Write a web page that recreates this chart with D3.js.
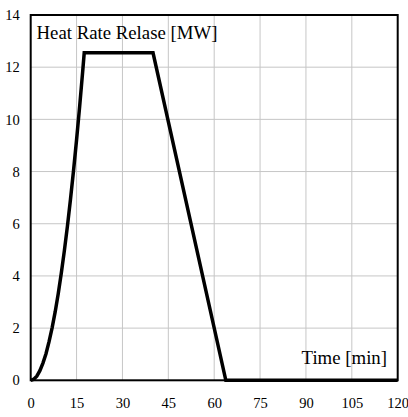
<!DOCTYPE html>
<html>
<head>
<meta charset="utf-8">
<script src="https://cdn.jsdelivr.net/npm/d3@7"></script>
<style>
  html, body { margin: 0; padding: 0; background: #fff; }
  svg { display: block; }
  text { font-family: "Liberation Serif", "Times New Roman", serif; fill: #000; }
</style>
</head>
<body>
<script>
// Time [min] and heat release rate [MW]
const timeMin = [0, 1, 2, 3, 4, 5, 6, 7, 8, 9, 10, 11, 12, 13, 14, 15, 16, 17, 17.5, 40, 63.8, 120];
const hrrMW   = [0, 0.04, 0.16, 0.37, 0.66, 1.02, 1.48, 2.01, 2.62, 3.32, 4.10, 4.96, 5.90, 6.93, 8.03, 9.22, 10.49, 11.84, 12.55, 12.55, 0, 0];

const xTicks = [0, 15, 30, 45, 60, 75, 90, 105, 120];
const yTicks = [0, 2, 4, 6, 8, 10, 12, 14];
const yLabel = "Heat Rate Relase [MW]";
const xLabel = "Time [min]";

const W = 408, H = 417;
const pL = 30.7, pR = 397.7, pT = 15, pB = 380.3;

const svg = d3.select("body").append("svg").attr("width", W).attr("height", H);

const x = d3.scaleLinear().domain([0, 120]).range([pL, pR]);
const y = d3.scaleLinear().domain([0, 14]).range([pB, pT]);

// grid
svg.append("g").selectAll("line").data(xTicks.slice(1, -1)).join("line")
  .attr("x1", d => x(d)).attr("x2", d => x(d)).attr("y1", pT).attr("y2", pB)
  .attr("stroke", "#c6c6c6").attr("stroke-width", 1);
svg.append("g").selectAll("line").data(yTicks.slice(1, -1)).join("line")
  .attr("y1", d => y(d)).attr("y2", d => y(d)).attr("x1", pL).attr("x2", pR)
  .attr("stroke", "#c6c6c6").attr("stroke-width", 1);

// axes (labels only, via d3 axes)
const xAxis = svg.append("g").attr("transform", `translate(0,${pB})`)
  .call(d3.axisBottom(x).tickValues(xTicks).tickSize(0).tickPadding(17).tickFormat(d3.format("d")));
const yAxis = svg.append("g").attr("transform", `translate(${pL},0)`)
  .call(d3.axisLeft(y).tickValues(yTicks).tickSize(0).tickPadding(11).tickFormat(d3.format("d")));
[xAxis, yAxis].forEach(a => {
  a.select(".domain").remove();
  a.attr("font-family", null).attr("font-size", null);
  a.selectAll("text").style("font-family", '"Liberation Serif", serif').style("font-size", "14.5px").attr("fill", "#000");
});

// frame
svg.append("rect").attr("x", pL).attr("y", pT).attr("width", pR - pL).attr("height", pB - pT)
  .attr("fill", "none").attr("stroke", "#000").attr("stroke-width", 2);

// curve
const pts = timeMin.map((t, i) => [t, hrrMW[i]]);
svg.append("path").datum(pts)
  .attr("d", d3.line().x(d => x(d[0])).y(d => y(d[1])))
  .attr("fill", "none").attr("stroke", "#000").attr("stroke-width", 3.5).attr("stroke-linejoin", "miter");

// labels
svg.append("text").attr("x", 36.5).attr("y", 38.8).style("font-size", "18.8px").text(yLabel);
svg.append("text").attr("x", 387).attr("y", 364.3).attr("text-anchor", "end").style("font-size", "18.8px").text(xLabel);
</script>
</body>
</html>
